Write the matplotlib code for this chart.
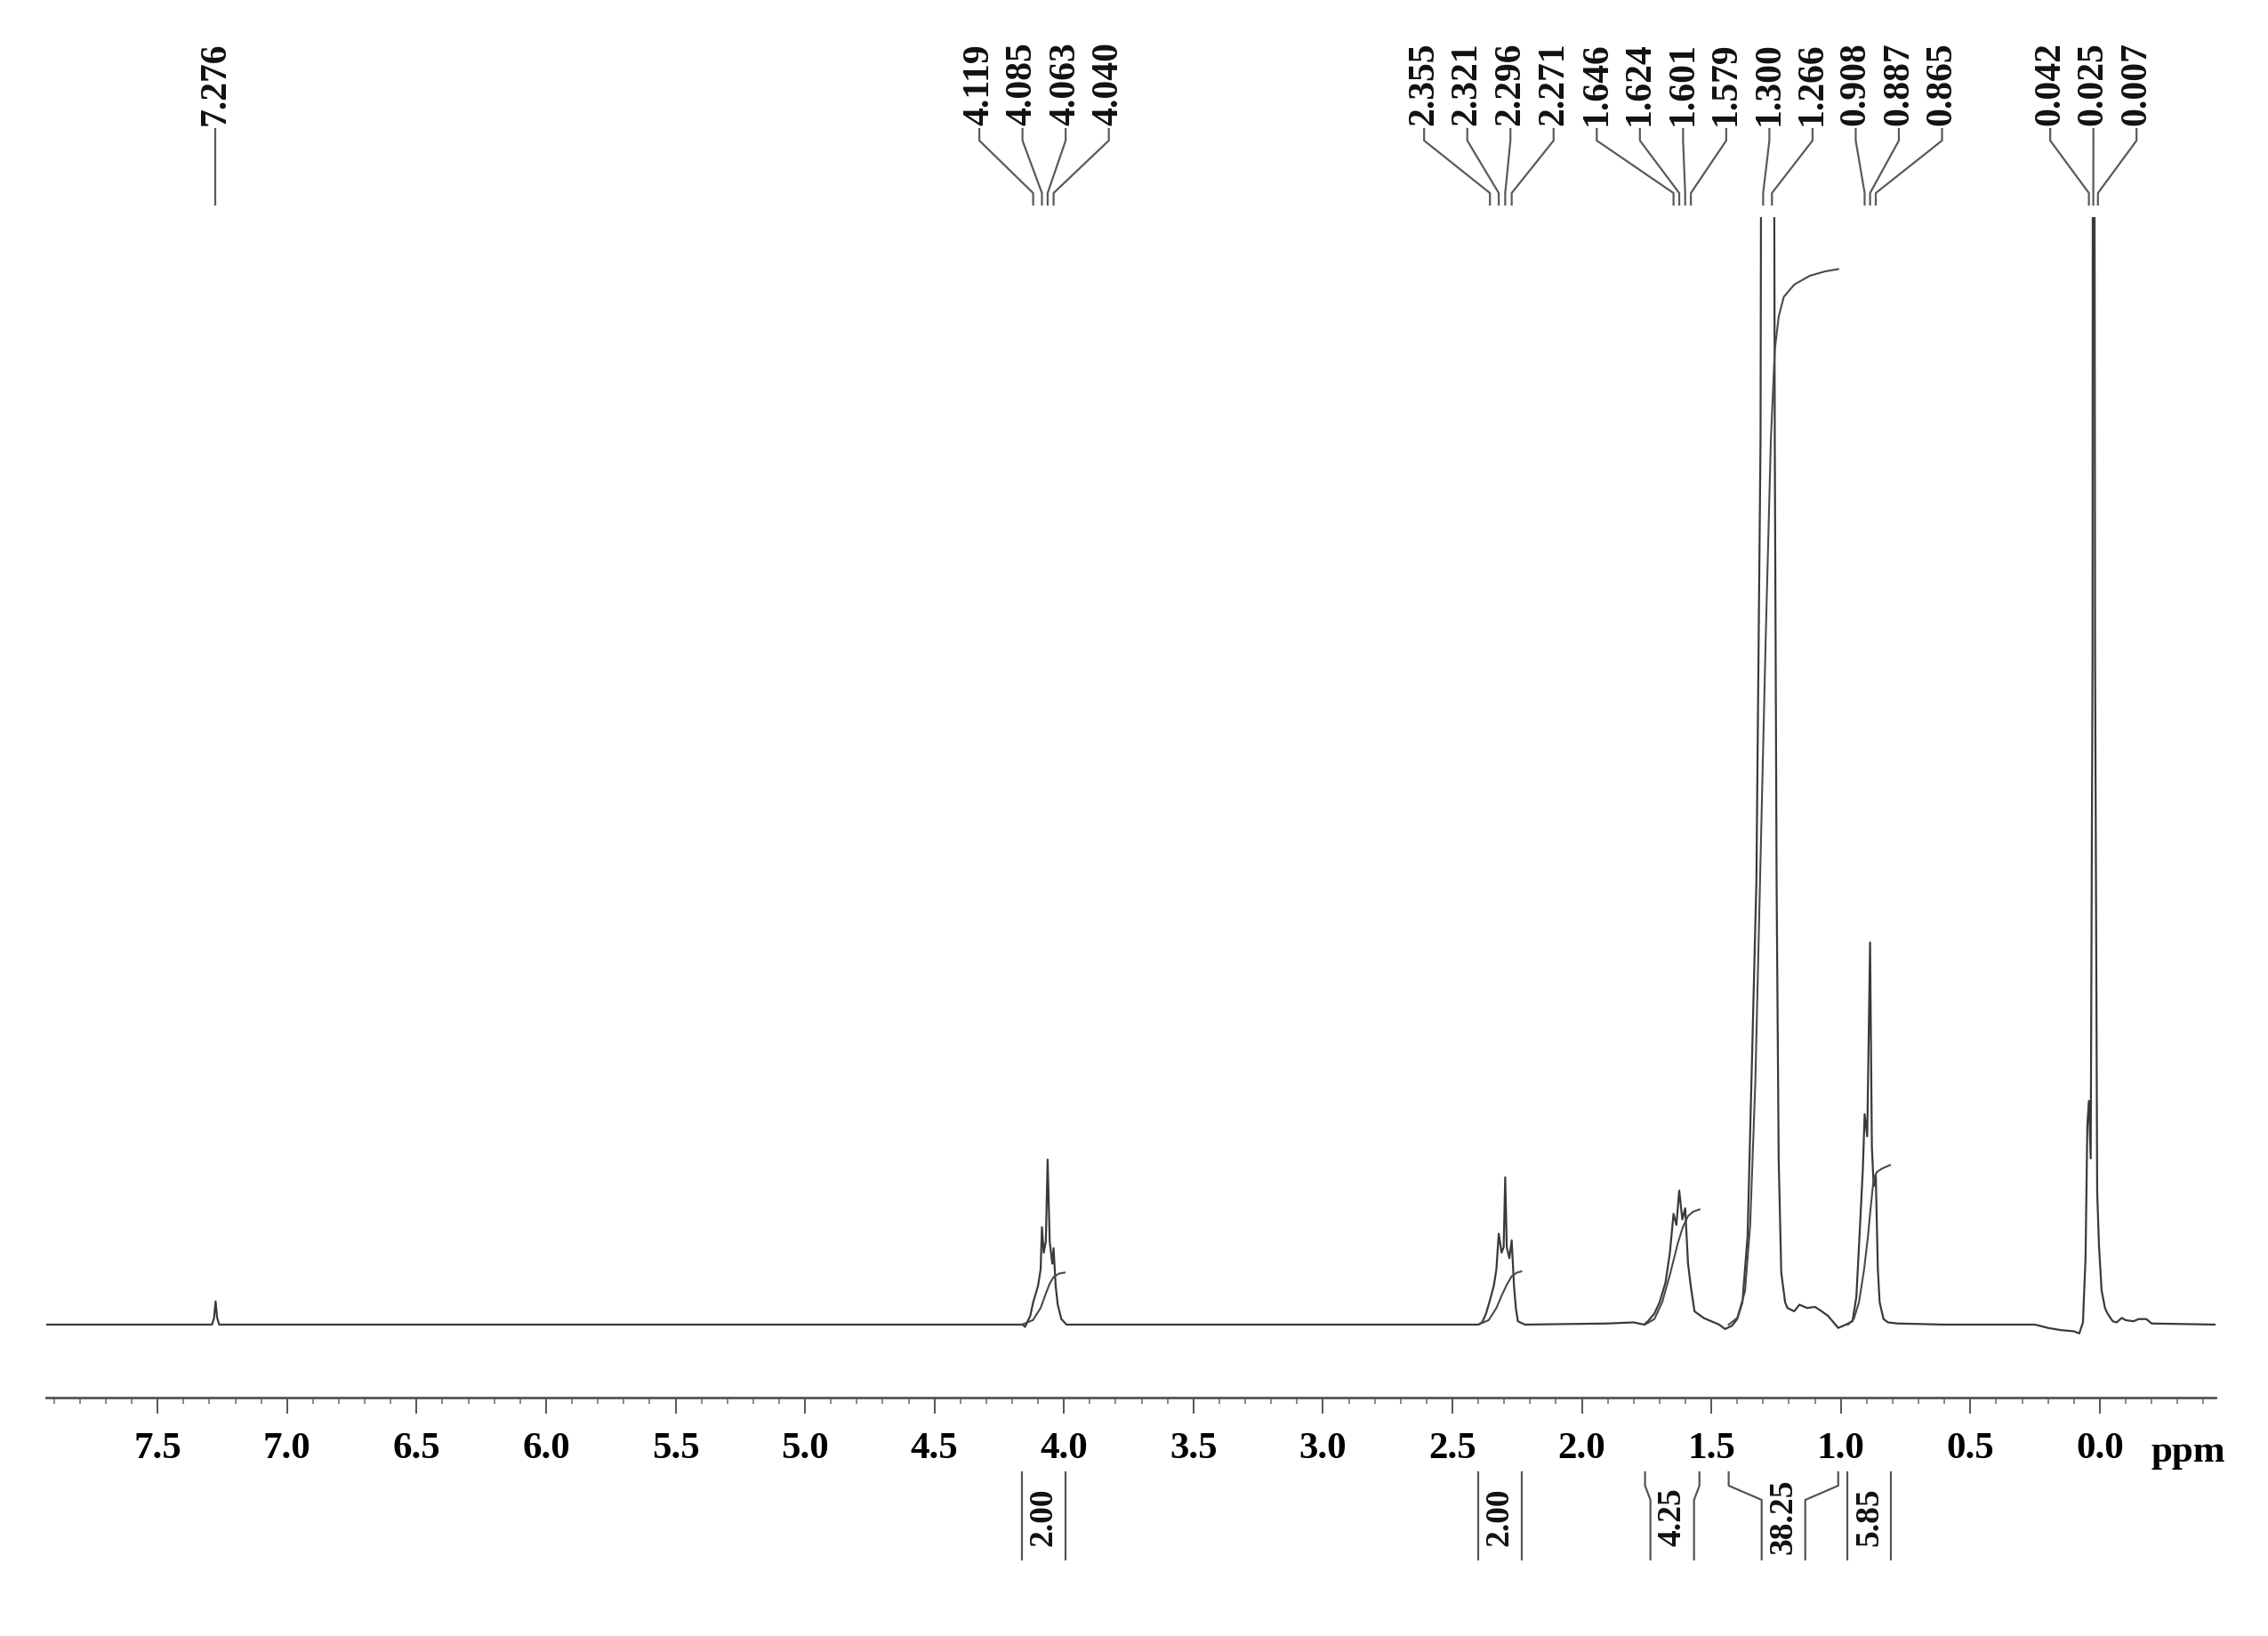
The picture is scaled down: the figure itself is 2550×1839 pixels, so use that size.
import matplotlib

matplotlib.use("Agg")

import matplotlib.pyplot as plt
from matplotlib import transforms
from matplotlib.ticker import FixedLocator, MultipleLocator, FormatStrFormatter

# 1H NMR trace: ppm and relative intensity (values >100 run off-scale)
spectrum_ppm = [
    7.93, 7.29, 7.282, 7.276, 7.270, 7.262,
    4.16, 4.15, 4.13, 4.119, 4.10, 4.09, 4.085, 4.078, 4.07, 4.063, 4.055, 4.045, 4.040, 4.032,
    4.024, 4.01, 3.99,
    2.40, 2.385, 2.37, 2.355, 2.34, 2.33, 2.321, 2.31, 2.302, 2.296, 2.29, 2.28, 2.271, 2.262,
    2.255, 2.247, 2.22,
    1.90, 1.80, 1.76,
    1.745, 1.72, 1.70, 1.677, 1.66, 1.646, 1.635, 1.624, 1.612, 1.601, 1.59, 1.579, 1.565,
    1.53, 1.50, 1.47, 1.447, 1.42,
    1.40, 1.38, 1.36, 1.344, 1.326, 1.31, 1.300, 1.285, 1.266, 1.255, 1.248, 1.24, 1.23,
    1.215, 1.206, 1.18, 1.16, 1.13, 1.10, 1.08, 1.05, 1.01, 0.98, 0.955,
    0.94, 0.93, 0.915, 0.908, 0.898, 0.887, 0.88, 0.873, 0.865, 0.857, 0.850, 0.835, 0.818,
    0.78, 0.60,
    0.25, 0.20, 0.15, 0.10, 0.079, 0.065,
    0.055, 0.048, 0.042, 0.035, 0.028, 0.025, 0.018, 0.010, 0.003, -0.007, -0.02, -0.03,
    -0.05, -0.065, -0.085, -0.10, -0.13, -0.15, -0.18, -0.20, -0.447,
]
spectrum_int = [
    0.0, 0.0, 0.6, 2.1, 0.6, 0.0,
    0.0, -0.2, 0.8, 2.0, 3.5, 5.0, 8.8, 6.5, 7.5, 14.9, 7.5, 5.5, 6.9, 3.5,
    1.8, 0.5, 0.0,
    0.0, 0.2, 1.0, 2.2, 3.5, 5.0, 8.2, 6.5, 7.0, 13.3, 7.0, 6.0, 7.6, 3.5,
    1.5, 0.3, 0.0,
    0.1, 0.2, 0.0,
    0.3, 1.0, 2.0, 3.8, 6.5, 10.0, 9.0, 12.1, 9.5, 10.5, 5.5, 3.4, 1.2,
    0.6, 0.3, 0.0, -0.4, -0.1,
    0.5, 2.0, 8.0, 23.0, 40.0, 80.0, 200.0, 150.0, 200.0, 80.0, 40.0, 15.0, 4.7,
    2.0, 1.5, 1.2, 1.8, 1.5, 1.6, 1.3, 0.8, -0.3, 0.0, 0.3,
    2.5, 7.0, 14.0, 19.0, 17.0, 34.5, 16.0, 12.5, 13.5, 5.0, 2.0, 0.5, 0.2,
    0.1, 0.0,
    0.0, -0.3, -0.5, -0.6, -0.8, 0.2,
    6.0, 18.0, 20.2, 15.0, 60.0, 200.0, 60.0, 12.0, 7.1, 3.1, 1.5, 1.0,
    0.3, 0.2, 0.6, 0.4, 0.3, 0.5, 0.5, 0.1, 0.0,
]

# integral curves drawn over the peaks
integral_ppm = [
    [4.162, 4.12, 4.09, 4.07, 4.055, 4.04, 4.02, 3.997],
    [2.40, 2.36, 2.33, 2.31, 2.29, 2.27, 2.25, 2.234],
    [1.756, 1.72, 1.69, 1.66, 1.63, 1.61, 1.59, 1.57, 1.546],
    [1.433, 1.40, 1.37, 1.35, 1.33, 1.31, 1.29, 1.27, 1.255, 1.24, 1.22, 1.18, 1.12, 1.06, 1.01],
    [0.972, 0.95, 0.93, 0.91, 0.895, 0.885, 0.873, 0.86, 0.84, 0.81],
]
integral_val = [
    [0.0, 0.4, 1.5, 2.8, 3.7, 4.3, 4.6, 4.7],
    [0.0, 0.4, 1.5, 2.6, 3.6, 4.4, 4.7, 4.8],
    [0.0, 0.5, 2.0, 4.5, 7.3, 8.8, 9.8, 10.2, 10.4],
    [0.0, 0.6, 3.0, 9.0, 22.0, 42.0, 62.0, 80.0, 88.0, 91.0, 92.8, 93.9, 94.7, 95.1, 95.3],
    [0.0, 0.5, 2.0, 5.0, 8.0, 10.5, 13.2, 13.8, 14.1, 14.4],
]
integral_regions = [(4.162, 3.997), (2.40, 2.234), (1.756, 1.546), (1.433, 1.010), (0.972, 0.808)]
integral_labels = ["2.00", "2.00", "4.25", "38.25", "5.85"]

# picked peaks, grouped by multiplet
peak_groups = [
    [7.276],
    [4.119, 4.085, 4.063, 4.040],
    [2.355, 2.321, 2.296, 2.271],
    [1.646, 1.624, 1.601, 1.579],
    [1.300, 1.266],
    [0.908, 0.887, 0.865],
    [0.042, 0.025, 0.007],
]

major_ticks = [7.5, 7.0, 6.5, 6.0, 5.5, 5.0, 4.5, 4.0, 3.5, 3.0, 2.5, 2.0, 1.5, 1.0, 0.5, 0.0]

W, H = 2550, 1839
PX_PER_PPM = 291.0
LINE = "#3a3a3a"
FONT = ["Liberation Serif", "DejaVu Serif"]


def fy(px):
    return 1 - px / H


def layout_labels(groups, spacing):
    # centre each multiplet's labels on its peaks, merge blocks that collide
    blocks = [list(g) for g in groups]
    changed = True
    while changed:
        changed = False
        for i in range(len(blocks) - 1):
            a, b = blocks[i], blocks[i + 1]
            ca, cb = sum(a) / len(a), sum(b) / len(b)
            a_last = ca - spacing * (len(a) - 1) / 2
            b_first = cb + spacing * (len(b) - 1) / 2
            if b_first > a_last - spacing:
                blocks[i:i + 2] = [a + b]
                changed = True
                break
    out = []
    for blk in blocks:
        c = sum(blk) / len(blk)
        for k, p in enumerate(blk):
            out.append((p, c + spacing * ((len(blk) - 1) / 2 - k)))
    return out


plt.rcParams["font.family"] = FONT
plt.rcParams["font.weight"] = "bold"

fig = plt.figure(figsize=(W / 100, H / 100), dpi=100)
ax = fig.add_axes([52 / W, fy(1571), (2491 - 52) / W, (1571 - 244) / H])
ax.set_xlim(7.93, -0.447)
ax.set_ylim(-6.59, 100)

ax.plot(spectrum_ppm, spectrum_int, color=LINE, linewidth=1.6)
for xs, ys in zip(integral_ppm, integral_val):
    ax.plot(xs, ys, color="#4a4a4a", linewidth=1.5)

for side in ("left", "right", "top"):
    ax.spines[side].set_visible(False)
ax.spines["bottom"].set_color("#555555")
ax.spines["bottom"].set_linewidth(2.0)
ax.set_yticks([])
ax.xaxis.set_major_locator(FixedLocator(major_ticks))
ax.xaxis.set_minor_locator(MultipleLocator(0.1))
ax.xaxis.set_major_formatter(FormatStrFormatter("%.1f"))
ax.tick_params(axis="x", which="major", direction="out", length=13, width=1.4,
               color="#555555", pad=15, labelsize=31)
ax.tick_params(axis="x", which="minor", direction="out", length=5, width=1.1, color="#666666")

trans = transforms.blended_transform_factory(ax.transData, fig.transFigure)

ax.text(-0.34, fy(1643), "ppm", transform=trans, fontsize=31, fontweight="bold",
        ha="center", va="baseline")

# peak labels and connectors
for peak, lx in layout_labels(peak_groups, 48.5 / PX_PER_PPM):
    ax.text(lx, fy(141), f"{peak:.3f}", transform=trans, rotation=90, fontsize=30,
            fontweight="bold", ha="center", va="bottom", color="#111111")
    ax.plot([lx, lx, peak, peak], [fy(145), fy(158), fy(217), fy(230)], transform=trans,
            color="#5a5a5a", linewidth=1.6, clip_on=False)

# integration brackets under the axis
half = 24.5 / PX_PER_PPM
for (a, b), lab in zip(integral_regions, integral_labels):
    mid = (a + b) / 2
    lb, rb = mid + half, mid - half
    ta, tb = max(a, lb), min(b, rb)
    ys = [fy(1655), fy(1670), fy(1686), fy(1753)]
    ax.plot([ta, ta, lb, lb], ys, transform=trans, color="#555555", linewidth=1.6, clip_on=False)
    ax.plot([tb, tb, rb, rb], ys, transform=trans, color="#555555", linewidth=1.6, clip_on=False)
    ax.text(mid, fy(1705), lab, transform=trans, rotation=90, fontsize=27, fontweight="bold",
            ha="center", va="center", color="#111111")

fig.savefig("out.png", dpi=100)
plt.close(fig)
